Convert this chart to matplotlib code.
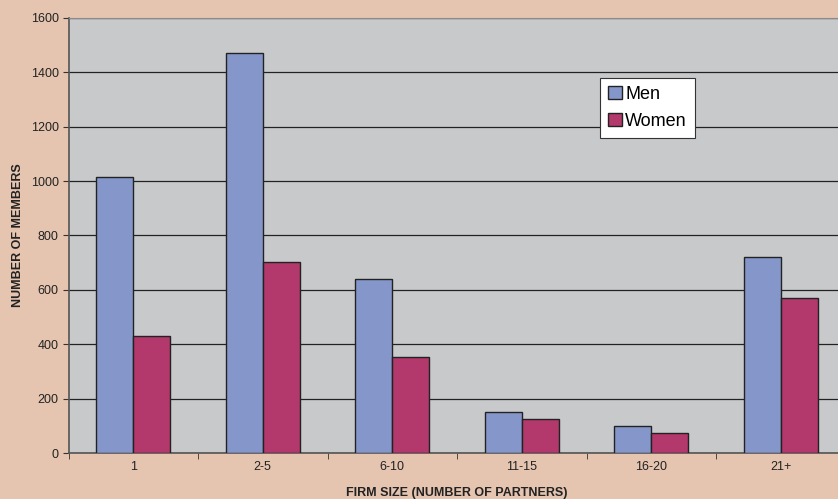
import numpy as np
import matplotlib.pyplot as plt

categories = ['1', '2-5', '6-10', '11-15', '16-20', '21+']
men = [1015, 1472, 640, 152, 100, 722]
women = [432, 702, 352, 124, 74, 569]
y_ticks = [0, 200, 400, 600, 800, 1000, 1200, 1400, 1600]

bg = '#E6C5B0'
plot_bg = '#C8C9CB'
men_color = '#8596CB'
women_color = '#B3386C'

fig = plt.figure(figsize=(8.38, 4.99), dpi=100, facecolor=bg)
# the plot area runs past the right edge of the picture, as in the original
ax = fig.add_axes([68.5 / 838, 46 / 499, 777 / 838, 435 / 499])
ax.set_facecolor(plot_bg)

x = np.arange(len(categories))
w = 0.286
ax.bar(x - w / 2, men, w, color=men_color, edgecolor='#222222', linewidth=1.0, label='Men', zorder=3)
ax.bar(x + w / 2, women, w, color=women_color, edgecolor='#222222', linewidth=1.0, label='Women', zorder=3)

ax.set_xlim(-0.5, len(categories) - 0.5)
ax.set_ylim(0, 1600)
ax.set_yticks(y_ticks)
ax.set_yticklabels([str(v) for v in y_ticks], fontsize=9, color='#222222', family='Liberation Sans')
ax.yaxis.grid(True, color='#222222', linewidth=0.9, zorder=1)
ax.set_axisbelow(True)

ax.set_xticks(x)
ax.set_xticklabels(categories, fontsize=9, color='#222222', family='Liberation Sans')
ax.set_xticks(np.arange(len(categories) + 1) - 0.5, minor=True)
ax.tick_params(axis='x', which='major', length=0, pad=6)
ax.tick_params(axis='x', which='minor', length=4, direction='out', color='#333333')
ax.tick_params(axis='y', length=4, direction='out', color='#333333', pad=3)

ax.spines['right'].set_visible(False)
ax.spines['top'].set_color('#8a8a8a')
ax.spines['left'].set_color('#555555')
ax.spines['left'].set_linewidth(1.2)
ax.spines['bottom'].set_color('#555555')
ax.spines['bottom'].set_linewidth(1.2)

ax.set_xlabel('FIRM SIZE (NUMBER OF PARTNERS)', fontsize=9, fontweight='bold',
              family='Liberation Sans', color='#222222', labelpad=10)
ax.set_ylabel('NUMBER OF MEMBERS', fontsize=9, fontweight='bold',
              family='Liberation Sans', color='#222222', labelpad=5)

leg = ax.legend(loc='upper left', bbox_to_anchor=((600 - 68.5) / 777, (453 - 78) / 435),
                frameon=True, fancybox=False, edgecolor='#333333', facecolor='white',
                framealpha=1, prop={'family': 'Liberation Sans', 'size': 13},
                handlelength=0.75, handleheight=0.75, handletextpad=0.2,
                borderpad=0.45, labelspacing=0.55, borderaxespad=0)
leg.get_frame().set_linewidth(0.8)
for h in leg.legend_handles:
    h.set_edgecolor('#222222')

fig.savefig('out.png', dpi=100, facecolor=bg)
